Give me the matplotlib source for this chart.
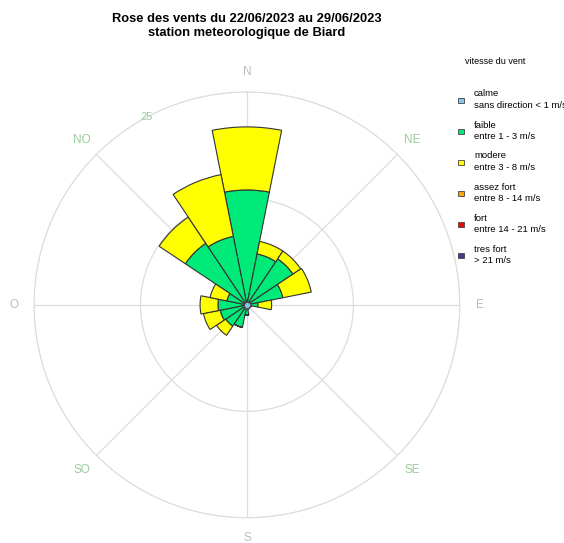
import matplotlib
matplotlib.use("Agg")
import matplotlib.pyplot as plt
import numpy as np
from matplotlib.patches import Rectangle

plt.rcParams["font.family"] = ["Liberation Sans", "DejaVu Sans"]

# 16 secteurs, depuis le nord, sens horaire
DIRECTIONS = ["N", "NNE", "NE", "ENE", "E", "ESE", "SE", "SSE",
              "S", "SSO", "SO", "OSO", "O", "ONO", "NO", "NNO"]
# frequences (%) par classe de vitesse
faible = [13.5, 6.1, 6.5, 4.3, 1.3, 0.5, 0.4, 0.5,
          1.2, 2.7, 3.0, 3.2, 3.4, 2.4, 8.7, 8.2]
modere = [7.4, 1.5, 1.1, 3.4, 1.6, 0.0, 0.0, 0.0,
          0.0, 0.0, 1.3, 2.0, 2.1, 2.0, 3.7, 7.4]
calme = 0.4

CARDINAUX = ["N", "NE", "E", "SE", "S", "SO", "O", "NO"]
CARD_COLORS = ["#bbbbbb", "#99cc99", "#bbbbbb", "#99cc99",
               "#bbbbbb", "#99cc99", "#bbbbbb", "#99cc99"]

LEG_TITRES = ["calme", "faible", "modere", "assez fort", "fort", "tres fort"]
LEG_DETAILS = ["sans direction < 1 m/s", "entre 1 - 3 m/s", "entre 3 - 8 m/s",
               "entre 8 - 14 m/s", "entre 14 - 21 m/s", "> 21 m/s"]
LEG_COLORS = ["#87c5f0", "#00ea7a", "#ffff00", "#ffa500", "#ff0000", "#3f3c8c"]

R_MAX = 25
W, H = 564, 543

fig = plt.figure(figsize=(W / 100, H / 100), dpi=100)
ax = fig.add_axes([0.0603, 0.046, 0.755, 0.785], projection="polar")
ax.set_theta_zero_location("N")
ax.set_theta_direction(-1)
ax.set_ylim(0, R_MAX)

theta = np.deg2rad(np.arange(16) * 22.5)
width = 2 * np.pi / 16
f = np.array(faible)
m = np.array(modere)
ax.bar(theta, f, width=width, bottom=0, color=LEG_COLORS[1],
       edgecolor="#333333", linewidth=0.8, zorder=3)
ax.bar(theta, m, width=width, bottom=f, color=LEG_COLORS[2],
       edgecolor="#333333", linewidth=0.8, zorder=3)
ax.scatter([0], [0], s=18, color=LEG_COLORS[0], edgecolor="#555555",
           linewidth=0.6, zorder=5)

# grille
ax.set_yticks([12.5, 25])
ax.set_yticklabels([])
ax.set_xticks(np.deg2rad(np.arange(8) * 45))
ax.set_xticklabels([])
ax.grid(True, color="#dddddd", linewidth=0.9)
ax.spines["polar"].set_color("#dddddd")
ax.tick_params(length=0)

for i, (lab, col) in enumerate(zip(CARDINAUX, CARD_COLORS)):
    ax.text(np.deg2rad(i * 45), 27.4, lab, color=col, fontsize=8.5,
            ha="center", va="center", clip_on=False)
ax.text(np.deg2rad(-28), 25, "25", color="#99cc99", fontsize=8,
        ha="center", va="center")

fig.text(0.438, 0.952, "Rose des vents du 22/06/2023 au 29/06/2023\n"
         "station meteorologique de Biard", ha="center", va="center",
         fontsize=9.3, fontweight="bold", linespacing=1.28)

# legende
fig.text(465 / W, 1 - 62 / H, "vitesse du vent", fontsize=6.5, ha="left", va="center")
for k, (t, d, c) in enumerate(zip(LEG_TITRES, LEG_DETAILS, LEG_COLORS)):
    yc = 1 - (100 + k * 31) / H
    fig.patches.append(Rectangle((458 / W, yc - 2.5 / H), 6 / W, 5 / H,
                                 transform=fig.transFigure, facecolor=c,
                                 edgecolor="#444444", linewidth=0.6))
    fig.text(474 / W, yc + 6 / H, t, fontsize=6.8, ha="left", va="center")
    fig.text(474 / W, yc - 5.5 / H, d, fontsize=6.8, ha="left", va="center")

fig.savefig("out.png", dpi=100)
